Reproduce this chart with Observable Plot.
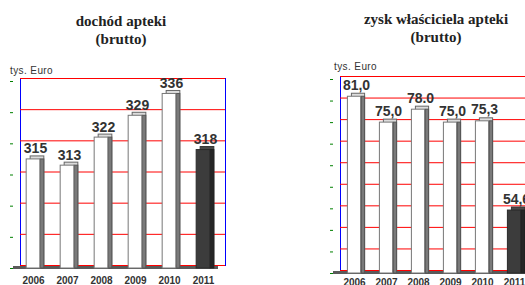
<!DOCTYPE html>
<html><head><meta charset="utf-8">
<script src="https://cdn.jsdelivr.net/npm/d3@7"></script>
<script src="https://cdn.jsdelivr.net/npm/@observablehq/plot@0.6"></script>
<style>
html,body{margin:0;width:525px;height:285px;overflow:hidden;}
body{position:relative;background:#fff;font-family:"Liberation Sans",Arial,sans-serif;}
.panel{position:absolute;top:0;height:285px;overflow:hidden}
.title{position:absolute;z-index:2;text-align:center;font-family:"Liberation Serif","Times New Roman",serif;font-weight:bold;font-size:15px;line-height:18px;color:#222;white-space:nowrap}
.unit{position:absolute;z-index:2;font-size:10px;letter-spacing:0.4px;line-height:1;color:#333;white-space:nowrap}
.panel svg{position:absolute;left:0;top:0}
</style></head><body>
<div id="left" class="panel" style="left:0;width:262px">
  <div class="title" style="left:0;width:242px;top:12px">dochód apteki<br>(brutto)</div>
  <div class="unit" style="left:10px;top:66px">tys. Euro</div>
</div>
<div id="right" class="panel" style="left:262px;width:263px">
  <div class="title" style="left:74px;width:200px;top:10px">zysk właściciela apteki<br>(brutto)</div>
  <div class="unit" style="left:72px;top:62px">tys. Euro</div>
</div>
<script>
// ---- data ----
const years = ["2006", "2007", "2008", "2009", "2010", "2011"];
const incomeValues = [315, 313, 322, 329, 336, 318];
const incomeLabels = ["315", "313", "322", "329", "336", "318"];
const incomeTicks = [280, 290, 300, 310, 320, 330, 340];
const profitValues = [81.0, 75.0, 78.0, 75.0, 75.3, 54.6];
const profitLabels = ["81,0", "75,0", "78.0", "75,0", "75,3", "54,6"];
const profitTicks = [40, 45, 50, 55, 60, 65, 70, 75, 80, 85];

function chart(o) {
  const n = o.years.length;
  const step = (o.xRange[1] - o.xRange[0]) / n;
  const face = 14, side = 4, depthX = 4, depthY = 3, wallX = 7, wallY = 3;
  const inF = step / 2 - face / 2;
  const sideL = step / 2 + face / 2, sideR = step / 2 - face / 2 - side;
  const rows = o.years.map((year, i) => ({year, v: o.values[i], label: o.labels[i], last: i === n - 1}));
  const base = o.ticks[0];
  const top = o.ticks[o.ticks.length - 1];
  const grid = "red";
  const pick = (a, b) => d => (d.last ? b : a);
  return Plot.plot({
    width: o.width, height: 285,
    marginLeft: o.marginLeft, marginRight: o.marginRight,
    marginTop: o.marginTop, marginBottom: o.marginBottom,
    style: {background: "transparent", overflow: o.overflow, fontFamily: "Liberation Sans, Arial, sans-serif"},
    x: {type: "band", domain: o.years, range: o.xRange, padding: 0},
    y: {domain: [base, top]},
    color: {type: "identity"},
    marks: [
      Plot.frame({stroke: "blue", strokeWidth: 1, dx: wallX, dy: -wallY}),
      Plot.ruleY(o.ticks, {stroke: grid, strokeWidth: 1, dx: wallX, dy: -wallY}),
      Plot.ruleY([base], {stroke: "#5a5a5a", strokeWidth: 3, dy: -1}),
      Plot.axisY({ticks: o.ticks, tickSize: 3, tickFormat: () => "", line: true, stroke: "green", label: null}),
      Plot.barY(rows, {x: "year", y1: base, y2: "v", dx: depthX, dy: -depthY, insetLeft: inF, insetRight: inF, fill: pick("#dcdcdc", "#4a4a4a"), stroke: pick("#666666", "#333333")}),
      Plot.barY(rows, {x: "year", y1: base, y2: "v", insetLeft: sideL, insetRight: sideR, fill: pick("#7a7a7a", "#262626"), stroke: pick("#555555", "#222222")}),
      Plot.barY(rows, {x: "year", y1: base, y2: "v", insetLeft: inF, insetRight: inF, fill: pick("#ffffff", "#3c3c3c"), stroke: pick("#777777", "#2a2a2a")}),
      Plot.text(rows, {x: "year", y: "v", text: "label", dx: 2, dy: o.labelDy, lineAnchor: "bottom", fontSize: 14, fontWeight: "bold", fill: "#333"}),
      Plot.axisX({tickSize: 0, tickPadding: o.tickPadding, fontSize: 10, fontWeight: "bold", fill: "#333", label: null})
    ]
  });
}

document.getElementById("left").appendChild(chart({
  years, values: incomeValues, labels: incomeLabels, ticks: incomeTicks,
  width: 262, marginLeft: 13, marginRight: 44, marginTop: 81, marginBottom: 17,
  xRange: [15, 221], labelDy: -6, tickPadding: 8, overflow: "visible"
}));
document.getElementById("right").appendChild(chart({
  years, values: profitValues, labels: profitLabels, ticks: profitTicks,
  width: 263, marginLeft: 71, marginRight: 0, marginTop: 79, marginBottom: 12,
  xRange: [73.6, 270.4], labelDy: -7, tickPadding: 5, overflow: "hidden"
}));
</script>
</body></html>
